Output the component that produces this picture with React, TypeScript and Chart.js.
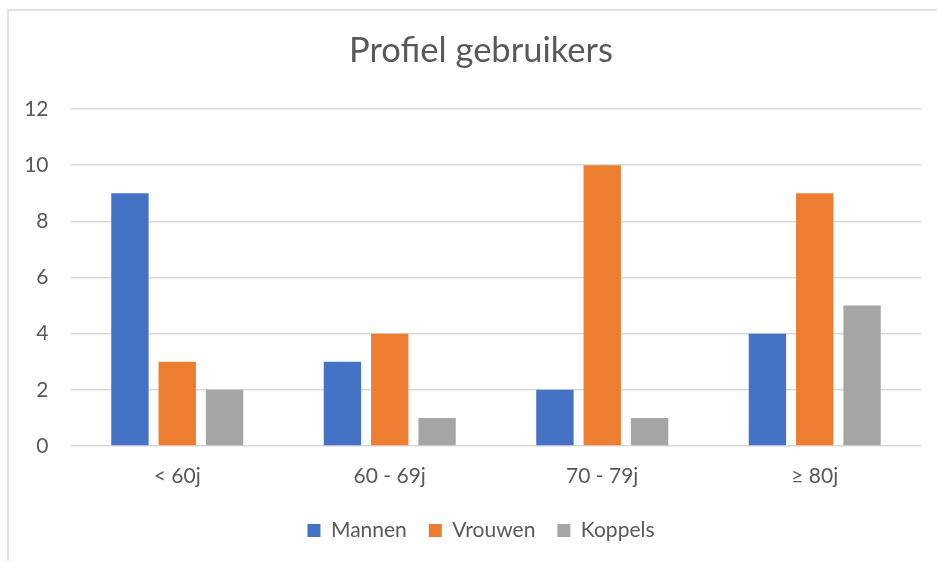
import { useEffect, useRef } from "react";
import { Chart, registerables } from "chart.js";

Chart.register(...registerables);

const categories = ["< 60j", "60 - 69j", "70 - 79j", "≥ 80j"];
const seriesNames = ["Mannen", "Vrouwen", "Koppels"];
const mannen = [9, 3, 2, 4];
const vrouwen = [3, 4, 10, 9];
const koppels = [2, 1, 1, 5];
const seriesColors = ["#4472C4", "#ED7D31", "#A5A5A5"];
const titleText = "Profiel gebruikers";
const yMin = 0;
const yMax = 12;
const yStep = 2;

const FONT = "Lato, 'Open Sans', sans-serif";
const TEXT_COLOR = "#595959";

export default function App() {
  const ref = useRef<HTMLCanvasElement | null>(null);

  useEffect(() => {
    if (!ref.current) return;
    const values = [mannen, vrouwen, koppels];
    const chart = new Chart(ref.current, {
      type: "bar",
      data: {
        labels: categories,
        datasets: seriesNames.map((name, i) => ({
          label: name,
          data: values[i],
          backgroundColor: seriesColors[i],
          borderWidth: 0,
          categoryPercentage: 0.668,
          barPercentage: 0.79,
          yAxisID: "y",
        })),
      },
      options: {
        animation: false,
        responsive: false,
        devicePixelRatio: 1,
        layout: { padding: { left: 10, right: 10, top: 0, bottom: 30 } },
        plugins: {
          title: {
            display: true,
            text: titleText,
            color: TEXT_COLOR,
            font: { family: FONT, size: 34.5, weight: "normal" },
            padding: { top: 19, bottom: 37.6 },
          },
          legend: {
            display: true,
            position: "bottom",
            labels: {
              color: TEXT_COLOR,
              font: { family: FONT, size: 21 },
              boxWidth: 13,
              boxHeight: 13,
              padding: 22,
            },
          },
          tooltip: { enabled: false },
        },
        scales: {
          x: {
            afterFit: (scale: any) => {
              scale.height = 52;
            },
            grid: { display: false, drawTicks: false },
            border: { display: false },
            ticks: {
              color: TEXT_COLOR,
              font: { family: FONT, size: 21 },
              padding: 18,
            },
          },
          y: {
            min: yMin,
            max: yMax,
            position: "left",
            afterFit: (scale: any) => {
              scale.width = 52;
            },
            grid: { color: "#d9d9d9", lineWidth: 1.5, drawTicks: false },
            border: { display: false },
            ticks: {
              stepSize: yStep,
              color: TEXT_COLOR,
              font: { family: FONT, size: 21 },
              padding: 22.5,
            },
          },
          yRight: {
            type: "linear",
            position: "right",
            display: true,
            afterFit: (scale: any) => {
              scale.width = 22;
            },
            grid: { display: false, drawTicks: false },
            border: { display: false },
            ticks: { display: false },
          },
        },
      },
    });
    return () => chart.destroy();
  }, []);

  return (
    <div
      style={{
        position: "fixed",
        left: 0,
        top: 0,
        width: 937,
        height: 561,
        overflow: "hidden",
        background: "#ffffff",
      }}
    >
      <div
        style={{
          position: "absolute",
          left: 7,
          top: 9,
          width: 948,
          height: 600,
          border: "2px solid #e2e2e2",
          boxSizing: "border-box",
        }}
      >
        <canvas
          ref={ref}
          width={944}
          height={570}
          style={{ position: "absolute", left: 0, top: 0, display: "block" }}
        />
      </div>
    </div>
  );
}
